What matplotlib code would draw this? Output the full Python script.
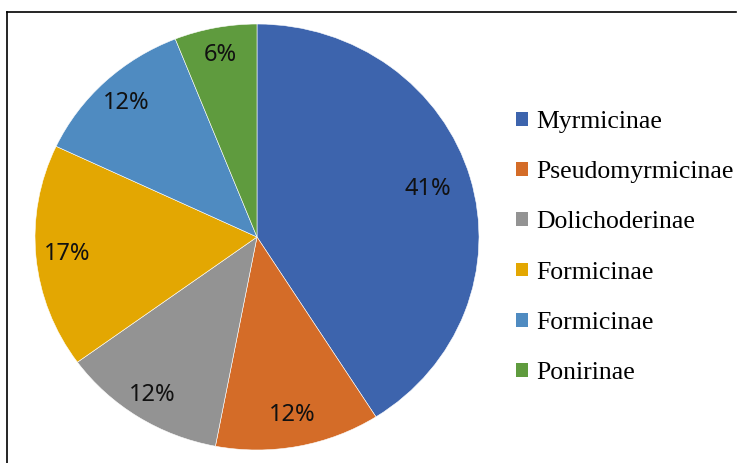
import numpy as np
import matplotlib.pyplot as plt
from matplotlib.patches import Patch
from matplotlib.lines import Line2D

# Data
subfamilies = ["Myrmicinae", "Pseudomyrmicinae", "Dolichoderinae",
               "Formicinae", "Formicinae", "Ponirinae"]
shares = [41, 12, 12, 17, 12, 6]
colors = ["#3D64AD", "#D46C28", "#939393", "#E3A702", "#4F8BC1", "#5F9B3E"]

# how far out each percentage label sits (fraction of radius)
label_radius = [0.8, 0.85, 0.88, 0.86, 0.86, 0.87]

W, H = 737, 463
fig = plt.figure(figsize=(W / 100, H / 100), dpi=100)

# pie area (slightly wider than tall, like the original)
ax = fig.add_axes([35 / W, (H - 450) / H, 444 / W, 426 / H])
wedges, texts, autotexts = ax.pie(
    shares, colors=colors, startangle=90, counterclock=False,
    autopct="%d%%", pctdistance=0.85,
    wedgeprops=dict(edgecolor="white", linewidth=0.4),
    textprops=dict(fontsize=17, family="Noto Sans", color="#111111"),
)
for w, t, r in zip(wedges, autotexts, label_radius):
    ang = np.deg2rad((w.theta1 + w.theta2) / 2)
    t.set_position((r * np.cos(ang), r * np.sin(ang)))

ax.set_aspect("auto")
ax.set_xlim(-1, 1)
ax.set_ylim(-1, 1)

# legend
handles = [Patch(facecolor=c, edgecolor="none") for c in colors]
leg = fig.legend(
    handles, subfamilies, loc="center left",
    bbox_to_anchor=(516 / W, 1 - 247.5 / H), borderaxespad=0, borderpad=0,
    frameon=False, handlelength=0.45, handleheight=0.45, handletextpad=0.35,
    labelspacing=1.1, prop=dict(family="Liberation Serif", size=18.5),
)

# frame lines (top and left only)
fig.add_artist(Line2D([7 / W, 7 / W], [0, 1 - 12 / H], color="black",
                      linewidth=1.2, transform=fig.transFigure))
fig.add_artist(Line2D([7 / W, 736 / W], [1 - 12 / H, 1 - 12 / H], color="black",
                      linewidth=1.2, transform=fig.transFigure))

fig.savefig("out.png", dpi=100)
